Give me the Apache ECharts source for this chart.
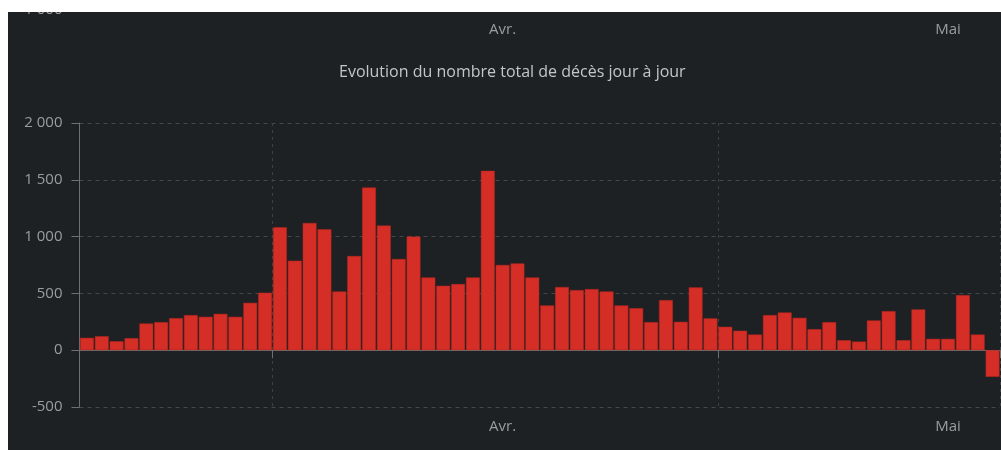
<!DOCTYPE html>
<html>
<head>
<meta charset="utf-8">
<script src="https://cdn.jsdelivr.net/npm/echarts@6/dist/echarts.min.js"></script>
<style>
  html, body { margin: 0; padding: 0; background: #ffffff; }
  #chart { position: absolute; left: 8px; top: 12px; width: 993px; height: 438px; background: #1d2124; }
</style>
</head>
<body>
<div id="chart"></div>
<script>
// jours du 19 mars au 19 mai 2020
const jours = [
  '2020-03-19', '2020-03-20', '2020-03-21', '2020-03-22', '2020-03-23', '2020-03-24', '2020-03-25',
  '2020-03-26', '2020-03-27', '2020-03-28', '2020-03-29', '2020-03-30', '2020-03-31',
  '2020-04-01', '2020-04-02', '2020-04-03', '2020-04-04', '2020-04-05', '2020-04-06', '2020-04-07',
  '2020-04-08', '2020-04-09', '2020-04-10', '2020-04-11', '2020-04-12', '2020-04-13', '2020-04-14',
  '2020-04-15', '2020-04-16', '2020-04-17', '2020-04-18', '2020-04-19', '2020-04-20', '2020-04-21',
  '2020-04-22', '2020-04-23', '2020-04-24', '2020-04-25', '2020-04-26', '2020-04-27', '2020-04-28',
  '2020-04-29', '2020-04-30',
  '2020-05-01', '2020-05-02', '2020-05-03', '2020-05-04', '2020-05-05', '2020-05-06', '2020-05-07',
  '2020-05-08', '2020-05-09', '2020-05-10', '2020-05-11', '2020-05-12', '2020-05-13', '2020-05-14',
  '2020-05-15', '2020-05-16', '2020-05-17', '2020-05-18', '2020-05-19'
]

const deces = [
  109, 123, 79, 106, 235, 247, 282, 309, 294, 320, 294, 417, 506,
  1082, 788, 1120, 1064, 517, 829, 1432, 1097, 803, 1000, 641, 567, 582, 641, 1579,
  750, 764, 641, 394, 556, 529, 538, 517, 394, 370, 247, 441, 250, 553, 280,
  206, 171, 138, 309, 332, 285, 185, 247, 88, 76, 262, 344, 88, 359, 100, 100, 485, 138, -235
]

const moisNoms = { '03': 'Mars', '04': 'Avr.', '05': 'Mai' }
const titre = 'Evolution du nombre total de décès jour à jour'

const chart = echarts.init(document.getElementById('chart'))

function fmtNombre(v) {
  return String(v).replace(/\B(?=(\d{3})+(?!\d))/g, ' ')
}

const debutMois = (i, v) => v.slice(8) === '01'
const milieuMois = (i, v) => v.slice(8) === '16'

const labelGris = { color: '#9a9da0', fontSize: 15, fontFamily: 'Open Sans' }

const xBase = {
  type: 'category',
  data: jours,
  axisLine: { show: true, lineStyle: { color: '#6c7073', width: 1 } },
  axisTick: { show: true, interval: debutMois, length: 8, lineStyle: { color: '#6c7073' } },
  axisLabel: { ...labelGris, interval: milieuMois, margin: 12, formatter: v => moisNoms[v.slice(5, 7)] },
}

chart.setOption({
  backgroundColor: '#1d2124',
  animation: false,
  title: {
    text: titre,
    left: 331,
    top: 52,
    padding: 0,
    textStyle: { color: '#c3c6c9', fontSize: 16, fontWeight: 'normal', fontFamily: 'Open Sans' },
  },
  grid: [
    { left: 71.5, right: 1, top: 111, bottom: 43, outerBoundsMode: 'none' },
    // bas du graphique précédent, coupé en haut
    { left: 71.5, right: 1, top: -100, height: 98, outerBoundsMode: 'none' },
  ],
  xAxis: [
    {
      ...xBase,
      gridIndex: 0,
      splitLine: { show: true, interval: debutMois, lineStyle: { color: '#3d4145', type: [3, 4] } },
    },
    { ...xBase, gridIndex: 1, axisLine: { show: false }, splitLine: { show: false } },
  ],
  yAxis: [
    {
      type: 'value',
      gridIndex: 0,
      min: -500,
      max: 2000,
      interval: 500,
      axisLine: { show: true, lineStyle: { color: '#6c7073' } },
      axisTick: { show: true, length: 8, lineStyle: { color: '#6c7073' } },
      axisLabel: { ...labelGris, margin: 17, formatter: fmtNombre },
      splitLine: { lineStyle: { color: '#44484c', type: [4, 4] } },
    },
    {
      type: 'value',
      gridIndex: 1,
      min: -1000,
      max: 0,
      interval: 1000,
      axisLine: { show: false },
      axisTick: { show: false },
      axisLabel: { ...labelGris, margin: 17, padding: [12, 0, 0, 0], formatter: v => (v === -1000 ? fmtNombre(v) : '') },
      splitLine: { show: false },
    },
  ],
  series: [
    {
      type: 'bar',
      name: 'Décès',
      xAxisIndex: 0,
      yAxisIndex: 0,
      data: deces,
      barCategoryGap: '7%',
      itemStyle: { color: '#d42e26', borderColor: '#b8271f', borderWidth: 0.5 },
    },
  ],
})
</script>
</body>
</html>
